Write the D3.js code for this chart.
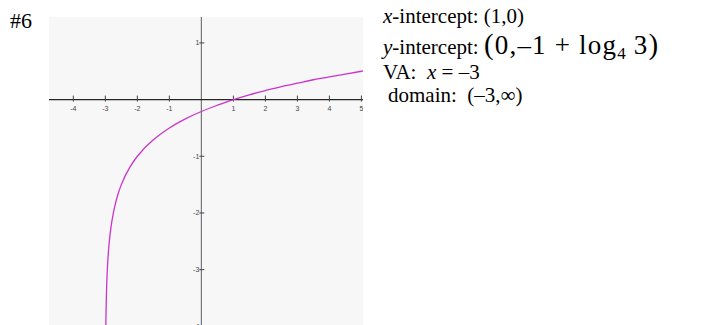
<!DOCTYPE html>
<html>
<head>
<meta charset="utf-8">
<script src="https://cdn.jsdelivr.net/npm/d3@7"></script>
<style>
  html, body { margin: 0; padding: 0; background: #fff; }
  svg { display: block; }
  .note { font-family: "Liberation Serif", "Times New Roman", serif; fill: #000; }
  .math { letter-spacing: 1.2px; }
  .tick-label { font-family: "Liberation Sans", Arial, sans-serif; font-size: 7px; fill: #444; }
</style>
</head>
<body>
<svg id="chart" width="701" height="325"></svg>
<script>
// Sampled points of y = -1 + log4(x + 3)
const curveX = [-2.99, -2.984, -2.98, -2.97, -2.95, -2.92, -2.9, -2.85, -2.8, -2.7, -2.6, -2.5,
                -2.25, -2, -1.5, -1, -0.5, 0, 0.5, 1, 1.5, 2, 2.5, 3, 3.5, 4, 4.5, 5, 5.05];
const curveY = [-4.32, -4.0, -3.82, -3.53, -3.16, -2.82, -2.66, -2.37, -2.16, -1.87, -1.66, -1.5,
                -1.21, -1, -0.71, -0.5, -0.34, -0.21, -0.10, 0, 0.085, 0.16, 0.23, 0.29, 0.35, 0.40, 0.45, 0.5, 0.505];
const xTicks = [-4, -3, -2, -1, 1, 2, 3, 4, 5];
const yTicks = [1, -1, -2, -3, -4];

const svg = d3.select("#chart");

// plot panel
const panel = { left: 49, right: 363, top: 17, bottom: 332 };
const x = d3.scaleLinear().domain([-4.76, 5.05]).range([panel.left, panel.right]);
const y = d3.scaleLinear().domain([1.457, -4.1]).range([panel.top, panel.bottom]);

svg.append("defs").append("clipPath").attr("id", "panel-clip")
  .append("rect")
  .attr("x", panel.left).attr("y", panel.top)
  .attr("width", panel.right - panel.left).attr("height", panel.bottom - panel.top);

svg.append("rect")
  .attr("x", panel.left).attr("y", panel.top)
  .attr("width", panel.right - panel.left).attr("height", panel.bottom - panel.top)
  .attr("fill", "#f7f7f7");

const g = svg.append("g").attr("clip-path", "url(#panel-clip)");

// axes through the origin
g.append("line")
  .attr("x1", x(0)).attr("x2", x(0))
  .attr("y1", panel.top).attr("y2", panel.bottom)
  .attr("stroke", "#6a6a6a").attr("stroke-width", 1.1);
g.append("line")
  .attr("x1", panel.left).attr("x2", panel.right)
  .attr("y1", y(0)).attr("y2", y(0))
  .attr("stroke", "#262626").attr("stroke-width", 1.1);

// x ticks
g.selectAll(".xt").data(xTicks).join("line")
  .attr("x1", d => x(d)).attr("x2", d => x(d))
  .attr("y1", y(0) - 4).attr("y2", y(0) + 2)
  .attr("stroke", "#444").attr("stroke-width", 1);
g.selectAll(".xl").data(xTicks).join("text")
  .attr("class", "tick-label")
  .attr("x", d => x(d)).attr("y", y(0) + 11)
  .attr("text-anchor", "middle")
  .text(d => d);

// y ticks
g.selectAll(".yt").data(yTicks).join("line")
  .attr("x1", x(0) - 2).attr("x2", x(0) + 3)
  .attr("y1", d => y(d)).attr("y2", d => y(d))
  .attr("stroke", "#444").attr("stroke-width", 1);
g.selectAll(".yl").data(yTicks).join("text")
  .attr("class", "tick-label")
  .attr("x", x(0) - 2).attr("y", d => y(d) + 2.5)
  .attr("text-anchor", "end")
  .text(d => d);

// the curve
const pts = curveX.map((v, i) => [v, curveY[i]]);
g.append("path")
  .datum(pts)
  .attr("fill", "none")
  .attr("stroke", "#cc33cc")
  .attr("stroke-width", 1.3)
  .attr("d", d3.line().x(d => x(d[0])).y(d => y(d[1])).curve(d3.curveMonotoneY));

// notes
svg.append("text").attr("class", "note").attr("x", 10).attr("y", 28)
  .style("font-size", "22px").text("#6");

const n1 = svg.append("text").attr("class", "note").attr("x", 383).attr("y", 23).style("font-size", "21px");
n1.append("tspan").style("font-style", "italic").text("x");
n1.append("tspan").text("-intercept: (1,0)");

const n2 = svg.append("text").attr("class", "note").attr("x", 383).attr("y", 54).style("font-size", "21px");
n2.append("tspan").style("font-style", "italic").text("y");
n2.append("tspan").text("-intercept: ");
n2.append("tspan").attr("class", "math").style("font-size", "29px").text("(");
n2.append("tspan").attr("class", "math").style("font-size", "27px").text("0,\u20131 + log");
n2.append("tspan").style("font-size", "17px").attr("dy", 5).text("4");
n2.append("tspan").attr("class", "math").style("font-size", "27px").attr("dy", -5).text(" 3");
n2.append("tspan").style("font-size", "29px").text(")");

const n3 = svg.append("text").attr("class", "note").attr("x", 383).attr("y", 79).style("font-size", "21px");
n3.append("tspan").text("VA:\u00a0\u00a0");
n3.append("tspan").style("font-style", "italic").text("x");
n3.append("tspan").text(" = \u20133");

svg.append("text").attr("class", "note").attr("x", 388).attr("y", 102).style("font-size", "21px")
  .text("domain:\u00a0\u00a0(\u20133,\u221e)");
</script>
</body>
</html>
